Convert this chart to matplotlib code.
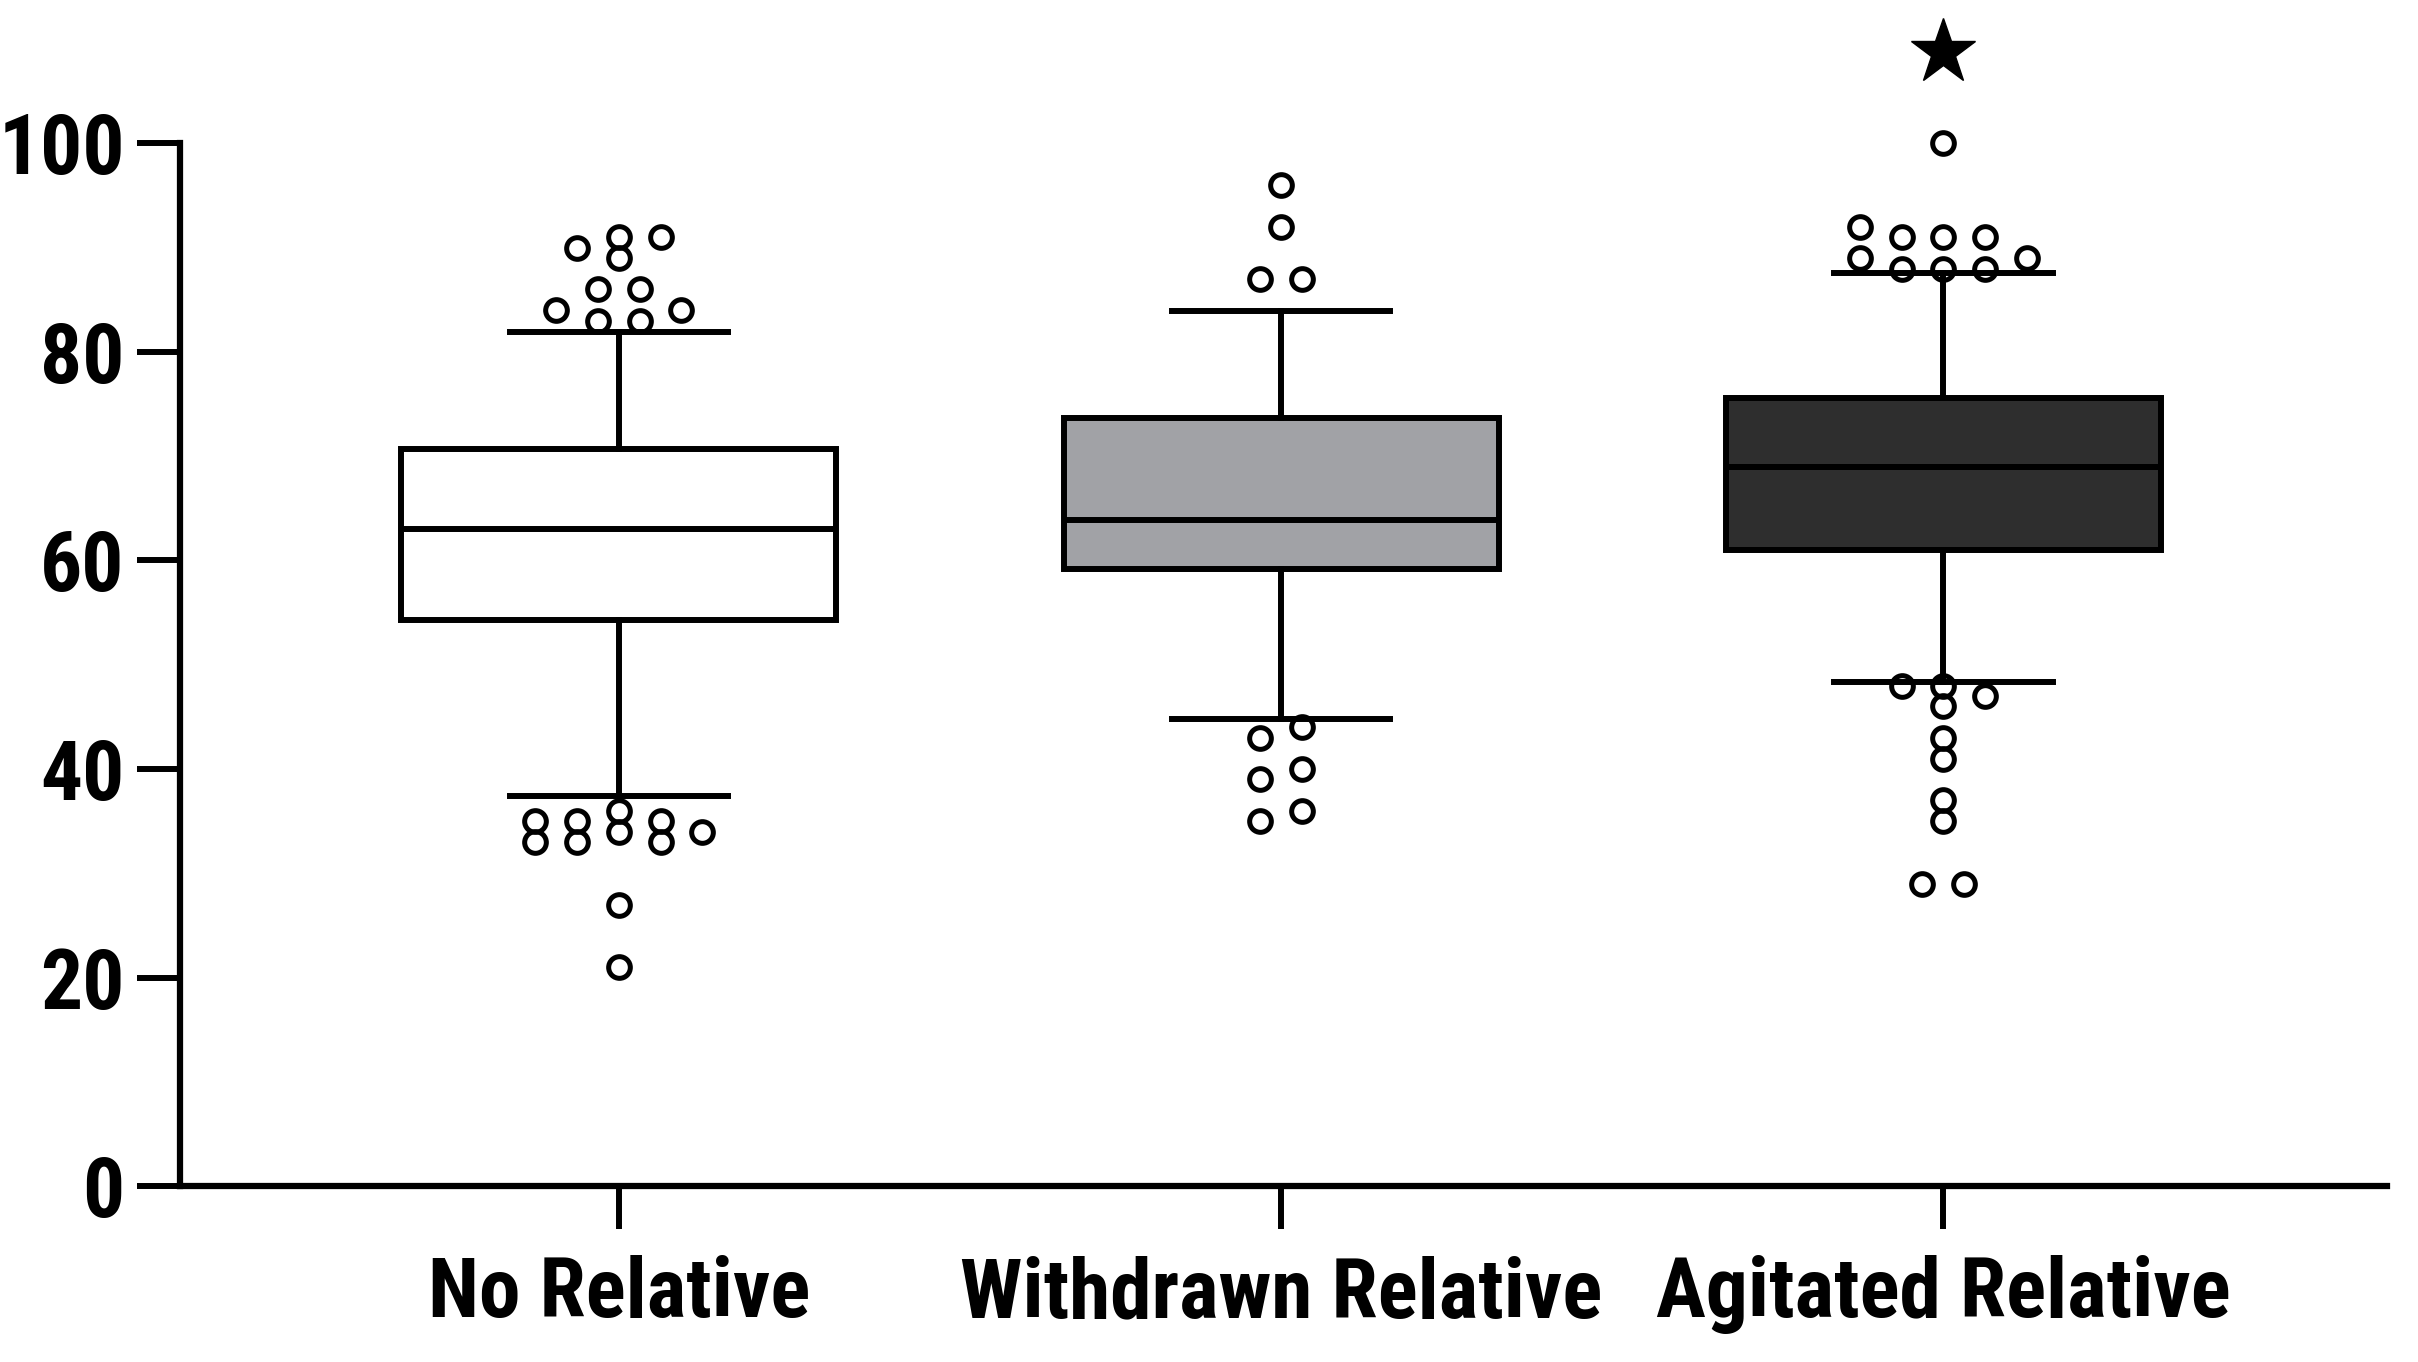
import matplotlib
matplotlib.use("Agg")
import matplotlib.pyplot as plt
import numpy as np

# Data (box summary + individual outliers)
groups = ["No Relative", "Withdrawn Relative", "Agitated Relative"]
q1 = [54.3, 59.2, 61.0]
median = [63.0, 63.9, 69.0]
q3 = [70.7, 73.7, 75.6]
whisker_low = [37.4, 44.8, 48.3]
whisker_high = [81.9, 83.9, 87.6]
outliers = [
    [83, 83, 84, 84, 86, 86, 89, 90, 91, 91, 36, 35, 35, 35, 34, 34, 33, 33, 33, 27, 21],
    [96, 92, 87, 87, 44, 43, 40, 39, 36, 35],
    [100, 92, 91, 91, 91, 89, 89, 88, 88, 88, 48, 48, 47, 46, 43, 41, 37, 35, 29, 29],
]
box_colors = ["#ffffff", "#a1a2a6", "#2e2e2e"]
star_group = 3
star_y = 108.8

font = ["Roboto Condensed", "IBM Plex Sans Condensed", "Fira Sans Condensed",
        "Liberation Sans", "DejaVu Sans"]


def swarm(values, ascending, step=0.063, gap=3.0, min_dv=1.9):
    """Simple column swarm: cluster nearby values, place greedily in columns."""
    vals = sorted(values, reverse=not ascending)
    clusters = []
    for v in vals:
        if clusters and abs(v - clusters[-1][-1]) < gap:
            clusters[-1].append(v)
        else:
            clusters.append([v])
    order = [0.5, -0.5, 1.5, -1.5, 2.5, -2.5, 3.5, -3.5, 4.5, -4.5]
    xs, ys = [], []
    for cl in clusters:
        placed = []
        for v in cl:
            for c in order:
                if all(abs(v - pv) >= min_dv for pc, pv in placed if pc == c):
                    placed.append((c, v))
                    break
        cols = [c for c, _ in placed]
        shift = (max(cols) + min(cols)) / 2
        for c, v in placed:
            xs.append((c - shift) * step)
            ys.append(v)
    return np.array(xs), np.array(ys)


fig = plt.figure(figsize=(24.18, 13.62), dpi=100)
ax = fig.add_axes([0.0746, 0.1292, 0.9126, 0.7655])

positions = np.arange(1, len(groups) + 1)
stats = []
for i in range(len(groups)):
    stats.append(dict(med=median[i], q1=q1[i], q3=q3[i],
                      whislo=whisker_low[i], whishi=whisker_high[i],
                      fliers=[], label=groups[i]))

lw = 4.3
bp = ax.bxp(stats, positions=positions, widths=0.657, patch_artist=True,
            showfliers=False, capwidths=0.33,
            boxprops=dict(linewidth=lw, edgecolor="black"),
            medianprops=dict(linewidth=lw, color="black"),
            whiskerprops=dict(linewidth=lw, color="black"),
            capprops=dict(linewidth=lw, color="black"))
for patch, c in zip(bp["boxes"], box_colors):
    patch.set_facecolor(c)

for i, vals in enumerate(outliers):
    hi = [v for v in vals if v > whisker_high[i]]
    lo = [v for v in vals if v < whisker_low[i]]
    for part, asc in ((hi, True), (lo, False)):
        dx, y = swarm(part, asc)
        ax.plot(positions[i] + dx, y, "o", ms=15.6, mfc="none", mec="black",
                mew=3.6, clip_on=False, zorder=5)

ax.plot([star_group], [star_y], "*", ms=49, color="black", clip_on=False)

ax.set_xlim(0.338, 3.670)
ax.set_ylim(0, 100)
ax.set_yticks([0, 20, 40, 60, 80, 100])
ax.set_xticks(positions)
ax.set_xticklabels(groups)

for s in ("top", "right"):
    ax.spines[s].set_visible(False)
for s in ("left", "bottom"):
    ax.spines[s].set_linewidth(4.5)

ax.tick_params(axis="both", length=31, width=4.3, labelsize=60)
ax.tick_params(axis="y", pad=9)
ax.tick_params(axis="x", pad=19)
for lab in ax.get_xticklabels() + ax.get_yticklabels():
    lab.set_fontfamily(font)
    lab.set_fontweight("bold")

fig.savefig("out.png", dpi=100)
